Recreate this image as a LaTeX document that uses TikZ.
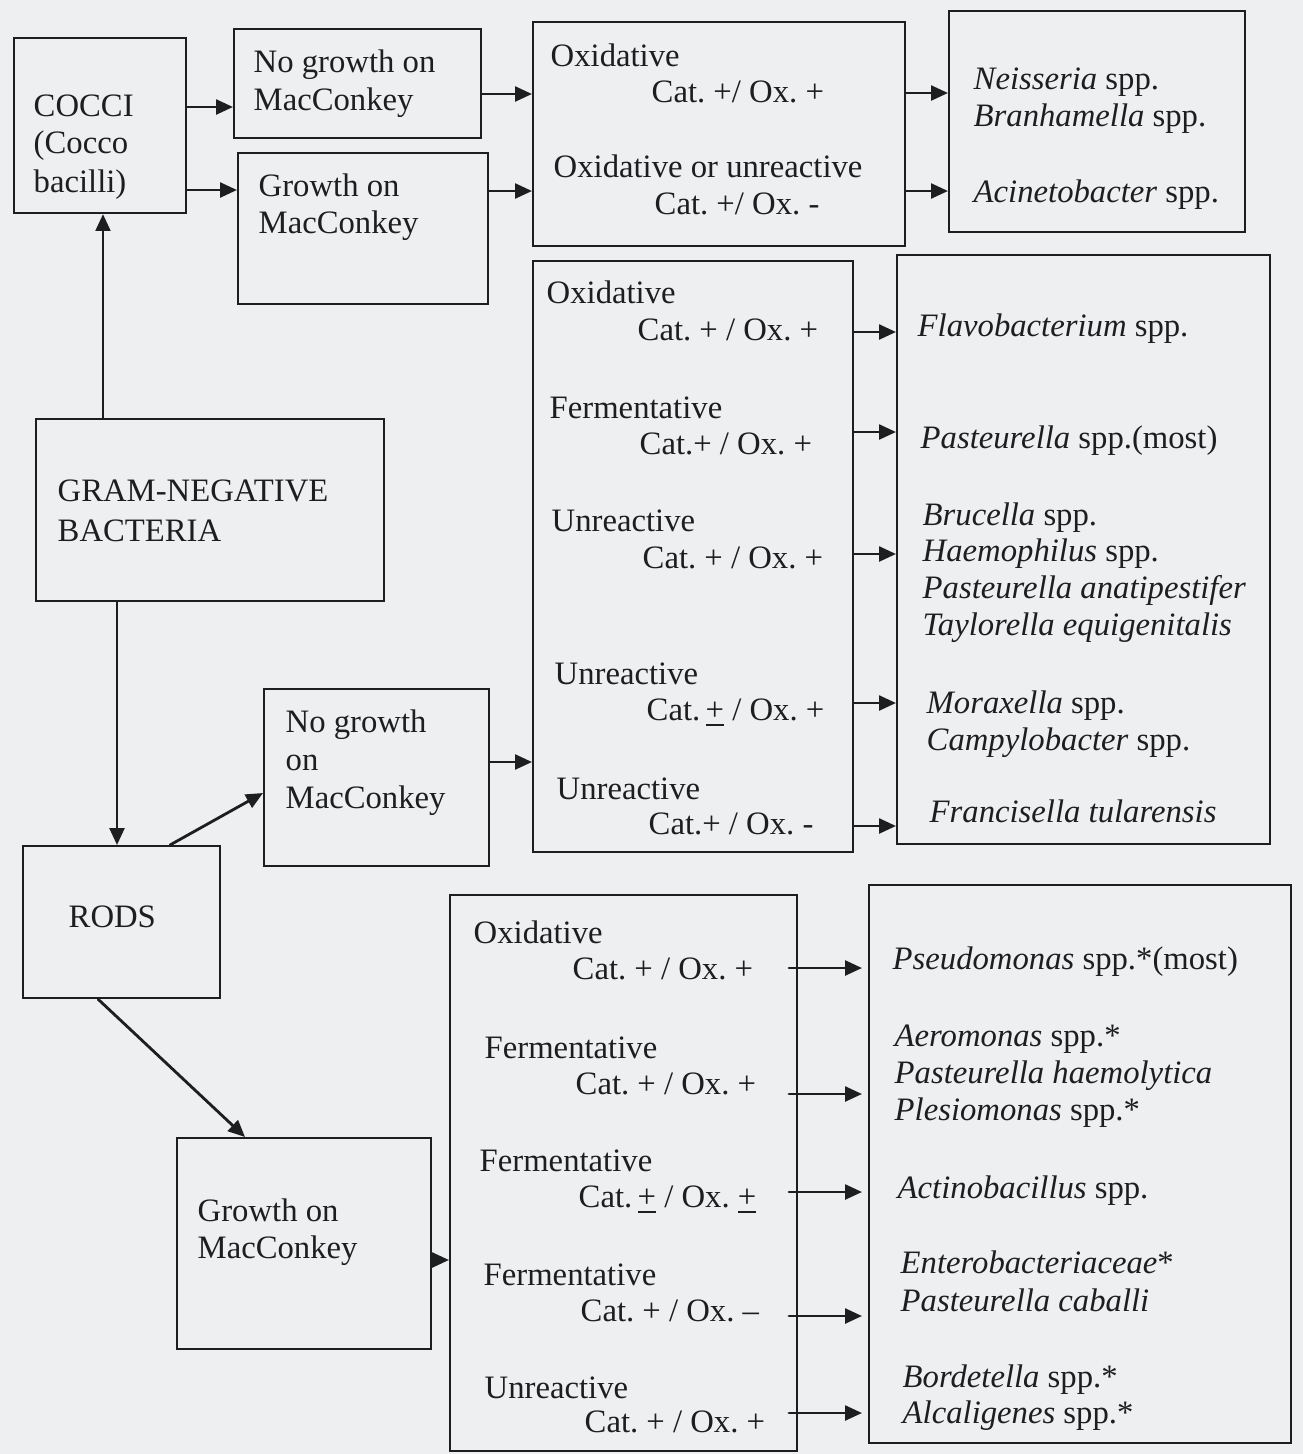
\documentclass[tikz,border=0pt]{standalone}
\usepackage{fontspec}
\setmainfont{Liberation Serif}
\usetikzlibrary{arrows.meta}
\definecolor{papel}{HTML}{EEEFF1}
\definecolor{tinta}{HTML}{1E1E1E}
\frenchspacing

\begin{document}
\begin{tikzpicture}[x=0.01cm,y=-0.01cm,>={Triangle[length=4.8pt,width=4.2pt]},line cap=round,
    caja/.style={draw=tinta,line width=0.6pt,inner sep=0pt,anchor=north west},
    txt/.style={anchor=base west,inner sep=0pt,text=tinta,font=\fontsize{9.3}{11}\selectfont},
    flecha/.style={->,draw=tinta,line width=0.8pt}]
  \fill[papel] (0,0) rectangle (1303,1454);
  \useasboundingbox (0,0) rectangle (1303,1454);
  \foreach \n/\x/\y/\w/\h in {cocci/13/37/172/175, nogA/233/28/247/109, grA/237/152/250/151,
      oxA/532/21/372/224, resA/948/10/296/221, gram/35/418/348/182, nogB/263/688/225/177,
      rods/22/845/197/152, grB/176/1137/254/211, midtest/532/260/320/591,
      midres/896/254/373/589, lowtest/449/894/347/556, lowres/868/884/422/558}
    \node[caja,minimum width=\w*0.01cm,minimum height=\h*0.01cm] (\n) at (\x,\y) {};
  \foreach \x/\y/\t [count=\i] in {33/116/COCCI, 33/153/{(Cocco}, 33/192/{bacilli)},
      253/72/No growth on, 253/110/MacConkey, 258/196/Growth on, 258/233/MacConkey,
      550/66/Oxidative, 651/102/{Cat. +/ Ox. +}, 553/177/Oxidative or unreactive, 654/214/{Cat. +/ Ox. -},
      973/89/{\textit{Neisseria} spp.}, 973/126/{\textit{Branhamella} spp.}, 973/202/{\textit{Acinetobacter} spp.},
      57/501/GRAM-NEGATIVE, 57/541/BACTERIA,
      285/732/No growth, 285/770/on, 285/808/MacConkey, 68/927/RODS,
      197/1221/Growth on, 197/1258/MacConkey}
    \node[txt] (t\i) at (\x,\y) {\t};
  \foreach \x/\y/\t [count=\i] in {546/303/Oxidative, 637/340/{Cat. + / Ox. +},
      549/418/Fermentative, 639/454/{Cat.+ / Ox. +}, 551/531/Unreactive, 642/568/{Cat. + / Ox. +},
      554/684/Unreactive, 646/720/{Cat.\,\underline{+} / Ox. +}, 556/799/Unreactive, 648/834/{Cat.+ / Ox. -},
      917/336/{\textit{Flavobacterium} spp.}, 920/448/{\textit{Pasteurella} spp.(most)},
      922/525/{\textit{Brucella} spp.}, 922/561/{\textit{Haemophilus} spp.},
      922/598/{\textit{Pasteurella anatipestifer}}, 922/635/{\textit{Taylorella equigenitalis}},
      926/713/{\textit{Moraxella} spp.}, 926/750/{\textit{Campylobacter} spp.},
      929/822/{\textit{Francisella tularensis}}}
    \node[txt] (m\i) at (\x,\y) {\t};
  \foreach \x/\y/\t [count=\i] in {473/943/Oxidative, 572/979/{Cat. + / Ox. +},
      484/1058/Fermentative, 575/1094/{Cat. + / Ox. +}, 479/1171/Fermentative,
      578/1207/{Cat.\,\underline{+} / Ox. \underline{+}}, 483/1285/Fermentative, 580/1321/{Cat. + / Ox. --},
      484/1398/Unreactive, 584/1432/{Cat. + / Ox. +},
      892/969/{\textit{Pseudomonas} spp.*(most)}, 894/1046/{\textit{Aeromonas} spp.*},
      894/1083/{\textit{Pasteurella haemolytica}}, 894/1120/{\textit{Plesiomonas} spp.*},
      897/1198/{\textit{Actinobacillus} spp.}, 900/1273/{\textit{Enterobacteriaceae}*},
      900/1311/{\textit{Pasteurella caballi}}, 902/1387/{\textit{Bordetella} spp.*},
      902/1423/{\textit{Alcaligenes} spp.*}}
    \node[txt] (b\i) at (\x,\y) {\t};
  \foreach \a/\b/\y in {cocci/nogA/107, cocci/grA/190, nogA/oxA/94, grA/oxA/191,
      oxA/resA/93, oxA/resA/191, nogB/midtest/762, midtest/midres/332, midtest/midres/432,
      midtest/midres/554, midtest/midres/703, midtest/midres/826, grB/lowtest/1260}
    \draw[flecha] (\a.east |- 0,\y) -- (\b.west |- 0,\y);
  \foreach \y in {968,1094,1192,1316,1413}
    \draw[flecha,shorten <=-2.6pt,shorten >=1.7pt] (lowtest.east |- 0,\y) -- (lowres.west |- 0,\y);
  \draw[flecha] (103,0 |- gram.north) -- (103,0 |- cocci.south);
  \draw[flecha] (117,0 |- gram.south) -- (117,0 |- rods.north);
  \draw[flecha] (170,0 |- rods.north) -- (nogB.west |- 0,793);
  \draw[flecha] (98,0 |- rods.south) -- (245,0 |- grB.north);
\end{tikzpicture}
\end{document}
